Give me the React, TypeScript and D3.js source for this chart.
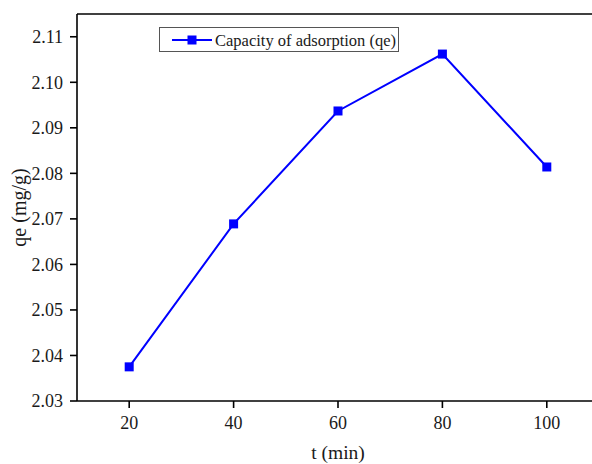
import React from 'react';
import * as d3 from 'd3';

// time (min) and adsorption capacity qe (mg/g)
const times = [20, 40, 60, 80, 100];
const qeValues = [2.0375, 2.0689, 2.0937, 2.1062, 2.0814];
const xTicks = [20, 40, 60, 80, 100];
const yTicks = [2.03, 2.04, 2.05, 2.06, 2.07, 2.08, 2.09, 2.10, 2.11];

const W = 592;
const H = 464;
const FONT = "'Liberation Serif', 'Times New Roman', Times, serif";
const BLUE = '#0000ff';

const txt: React.CSSProperties = { fontFamily: FONT };

const App: React.FC = () => {
    const margin = { top: 14, left: 77, bottom: 63 };
    const plotRight = 599; // frame runs past the picture edge
    const x = d3.scaleLinear().domain([10, 110]).range([margin.left, plotRight]);
    const y = d3.scaleLinear().domain([2.03, 2.115]).range([H - margin.bottom, margin.top]);

    const points = times.map((t, i) => [x(t), y(qeValues[i])] as [number, number]);
    const line = d3.line()(points) ?? '';

    const bottom = H - margin.bottom;
    const marker = 9;

    return (
        <svg width={W} height={H} style={{ position: 'absolute', left: 0, top: 0, display: 'block', fontFamily: FONT }}>
            <rect width={W} height={H} fill="#fff" />

            {/* frame */}
            <line x1={margin.left} x2={plotRight} y1={margin.top} y2={margin.top} stroke="#000" strokeWidth={1.6} />
            <line x1={margin.left} x2={margin.left} y1={margin.top} y2={bottom} stroke="#000" strokeWidth={1.6} />
            <line x1={margin.left} x2={plotRight} y1={bottom} y2={bottom} stroke="#000" strokeWidth={1.6} />

            {/* y ticks */}
            {yTicks.map(v => (
                <g key={v}>
                    <line x1={margin.left - 7} x2={margin.left} y1={y(v)} y2={y(v)} stroke="#000" strokeWidth={1.6} />
                    <text x={margin.left - 14} y={y(v)} dy="0.35em" textAnchor="end" fontSize={18} fill="#1a1a1a" style={txt}>
                        {v.toFixed(2)}
                    </text>
                </g>
            ))}

            {/* x ticks */}
            {xTicks.map(v => (
                <g key={v}>
                    <line x1={x(v)} x2={x(v)} y1={bottom} y2={bottom + 7} stroke="#000" strokeWidth={1.6} />
                    <text x={x(v)} y={bottom + 28} textAnchor="middle" fontSize={18} fill="#1a1a1a" style={txt}>
                        {v}
                    </text>
                </g>
            ))}

            {/* axis titles */}
            <text x={(margin.left + plotRight) / 2} y={459} textAnchor="middle" fontSize={19.5} fill="#1a1a1a" style={txt}>
                t (min)
            </text>
            <text
                transform={`translate(26,${(margin.top + bottom) / 2}) rotate(-90)`}
                textAnchor="middle"
                fontSize={20}
                fill="#1a1a1a"
                style={txt}
            >
                qe (mg/g)
            </text>

            {/* series */}
            <path d={line} fill="none" stroke={BLUE} strokeWidth={2} />
            {points.map(([px, py], i) => (
                <rect key={i} x={px - marker / 2} y={py - marker / 2} width={marker} height={marker} fill={BLUE} />
            ))}

            {/* legend */}
            <rect x={159.5} y={27.5} width={239} height={24} fill="#fff" stroke="#555" strokeWidth={1} />
            <line x1={172} x2={212} y1={40} y2={40} stroke={BLUE} strokeWidth={2} />
            <rect x={192 - marker / 2} y={40 - marker / 2} width={marker} height={marker} fill={BLUE} />
            <text x={215} y={40} dy="0.35em" fontSize={16.5} fill="#1a1a1a" style={txt}>
                Capacity of adsorption (qe)
            </text>
        </svg>
    );
};

export default App;
